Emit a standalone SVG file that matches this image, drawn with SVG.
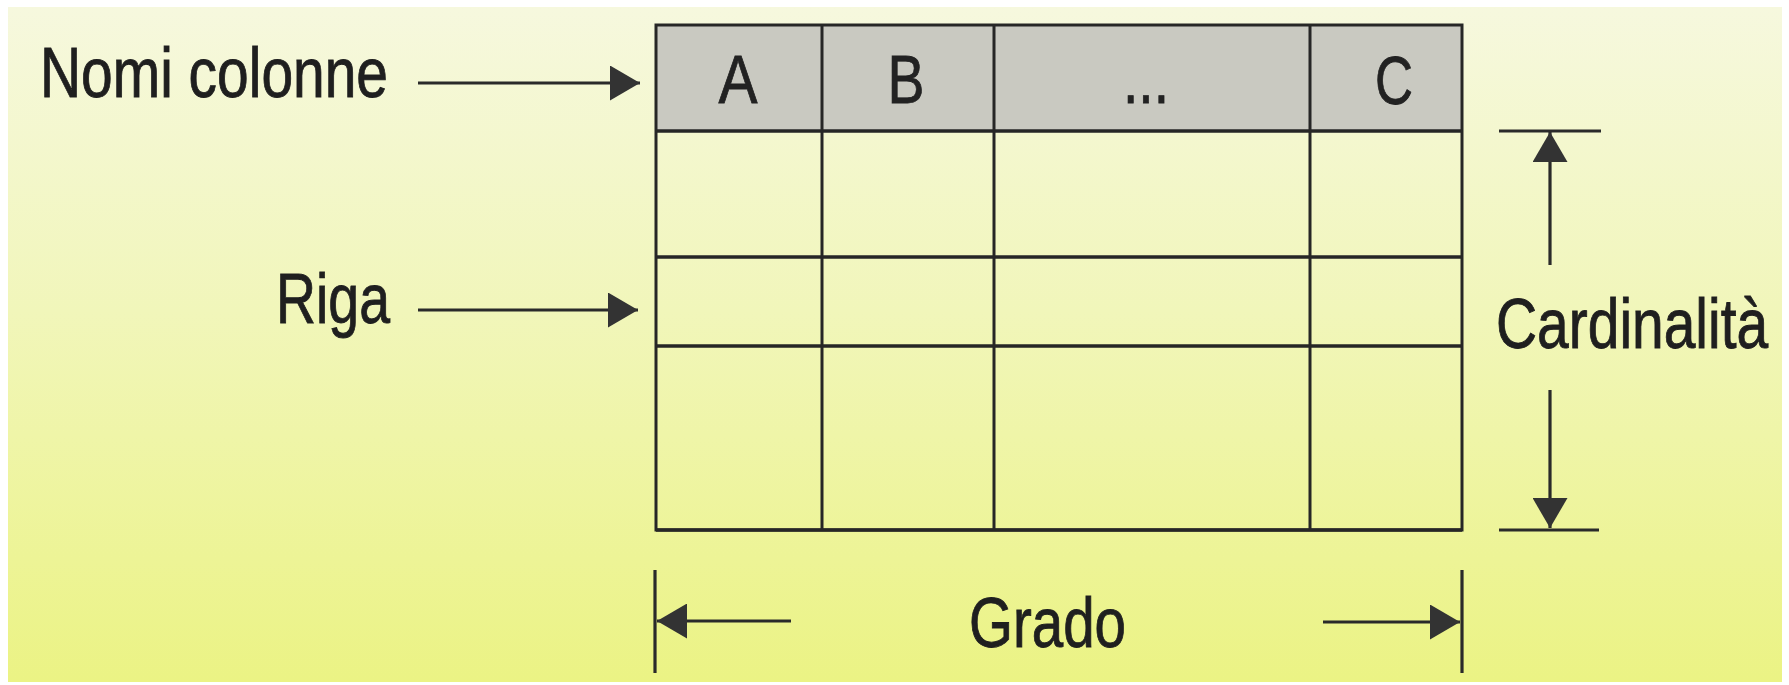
<svg xmlns="http://www.w3.org/2000/svg" width="1789" height="685" viewBox="0 0 1789 685">
<defs>
<linearGradient id="bg" x1="0" y1="0" x2="0" y2="1">
<stop offset="0" stop-color="#F6F8DE"/>
<stop offset="0.45" stop-color="#F1F6BA"/>
<stop offset="1" stop-color="#EBF384"/>
</linearGradient>
<marker id="ah" markerUnits="userSpaceOnUse" markerWidth="31" markerHeight="35" refX="30" refY="17.5" orient="auto">
<path d="M0,0 L30,17.5 L0,35 z" fill="#333"/>
</marker>
<style>
.lbl{font-family:"Liberation Sans",Arial,sans-serif;font-size:71px;fill:#1f1f1f;stroke:#1f1f1f;stroke-width:0.9}
.hdr{font-family:"Liberation Sans",Arial,sans-serif;font-size:69px;fill:#222;stroke:#222;stroke-width:0.8;text-anchor:middle}
.grid{stroke:#262626;stroke-width:3;fill:none}
.hl{stroke:#262626;stroke-width:3.5;fill:none}
.conn{stroke:#2a2a2a;stroke-width:3.2;fill:none}
.arr{stroke:#2a2a2a;stroke-width:3.2;fill:none;marker-end:url(#ah)}
</style>
</defs>
<rect x="0" y="0" width="1789" height="685" fill="#ffffff"/>
<rect x="8" y="7" width="1774" height="675" fill="url(#bg)"/>

<g id="table">
<rect x="656" y="25" width="806" height="106" fill="#C9C9C1"/>
<rect class="grid" x="656" y="25" width="806" height="505"/>
<line class="hl" x1="656" y1="131" x2="1462" y2="131"/>
<line class="hl" x1="656" y1="257" x2="1462" y2="257"/>
<line class="hl" x1="656" y1="346" x2="1462" y2="346"/>
<line class="hl" x1="656" y1="530" x2="1462" y2="530"/>
<line class="grid" x1="822" y1="25" x2="822" y2="530"/>
<line class="grid" x1="994" y1="25" x2="994" y2="530"/>
<line class="grid" x1="1310" y1="25" x2="1310" y2="530"/>
<text class="hdr" x="738" y="103" textLength="39" lengthAdjust="spacingAndGlyphs">A</text>
<text class="hdr" x="906" y="103" textLength="37" lengthAdjust="spacingAndGlyphs">B</text>
<text class="hdr" x="1146" y="103" textLength="46" lengthAdjust="spacingAndGlyphs">...</text>
<text class="hdr" x="1394" y="104" textLength="38" lengthAdjust="spacingAndGlyphs">C</text>
</g>

<g id="label-nomi-colonne">
<text class="lbl" x="40" y="97" textLength="348" lengthAdjust="spacingAndGlyphs">Nomi colonne</text>
</g>
<g id="label-riga">
<text class="lbl" x="276" y="323" textLength="114" lengthAdjust="spacingAndGlyphs">Riga</text>
</g>
<g id="label-cardinalita">
<text class="lbl" transform="translate(1496,348) scale(0.802,1)" x="0" y="0">Cardinalità</text>
</g>
<g id="label-grado">
<text class="lbl" x="969" y="647" textLength="157" lengthAdjust="spacingAndGlyphs">Grado</text>
</g>

<g id="connectors">
<line class="arr" x1="418" y1="83" x2="640" y2="83"/>
<line class="arr" x1="418" y1="310" x2="638" y2="310"/>
<line class="conn" x1="1499" y1="131" x2="1601" y2="131"/>
<line class="arr" x1="1550" y1="265" x2="1550" y2="132"/>
<line class="arr" x1="1550" y1="390" x2="1550" y2="528"/>
<line class="conn" x1="1499" y1="530" x2="1599" y2="530"/>
<line class="conn" x1="655" y1="570" x2="655" y2="673"/>
<line class="arr" x1="791" y1="621" x2="657" y2="621"/>
<line class="conn" x1="1462" y1="570" x2="1462" y2="673"/>
<line class="arr" x1="1323" y1="622" x2="1460" y2="622"/>
</g>
</svg>
